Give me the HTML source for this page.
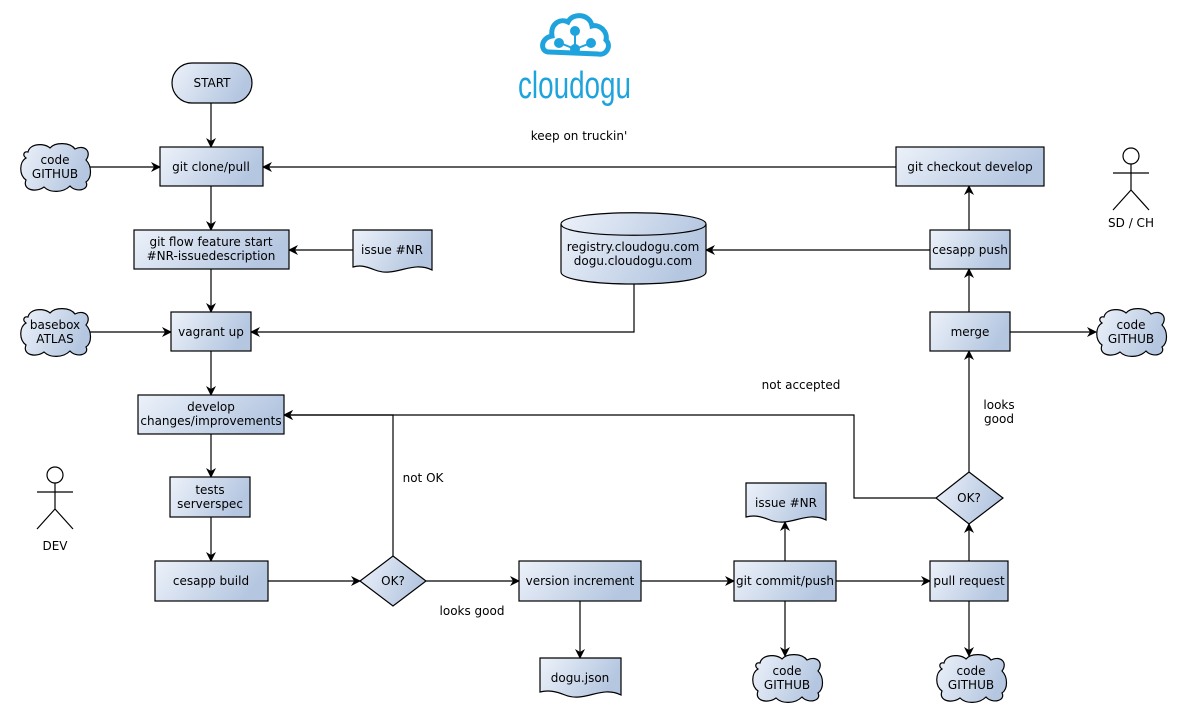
<!DOCTYPE html>
<html><head><meta charset="utf-8"><style>
html,body{margin:0;padding:0;background:#fff;}
svg{display:block;}
text{font-family:"DejaVu Sans","Liberation Sans",sans-serif;font-size:12px;fill:#000;}
</style></head><body>
<svg width="1186" height="719" viewBox="0 0 1186 719" xmlns="http://www.w3.org/2000/svg">
<defs>
<linearGradient id="g" x1="0" y1="0" x2="1" y2="0.3">
<stop offset="0" stop-color="#edf2fa"/><stop offset="1" stop-color="#b4c6e0"/>
</linearGradient>
<marker id="a" markerWidth="10" markerHeight="10" refX="9" refY="5" orient="auto" markerUnits="userSpaceOnUse">
<path d="M0,0 L10,5 L0,10 L3,5 Z" fill="#000"/>
</marker>
</defs>
<g fill="none" stroke="#000" stroke-width="1.2" marker-end="url(#a)">
<path d="M211,103 V147"/>
<path d="M90,167 H160"/>
<path d="M896,167 H263"/>
<path d="M211,186 V230"/>
<path d="M353,250 H289"/>
<path d="M211,269 V312"/>
<path d="M90,332 H171"/>
<path d="M634,283 V332 H251"/>
<path d="M211,351 V395"/>
<path d="M211,434 V477"/>
<path d="M211,517 V561"/>
<path d="M268,581 H360"/>
<path d="M393,556 V415 H284"/>
<path d="M426,581 H519"/>
<path d="M580,601 V658"/>
<path d="M641,581 H734"/>
<path d="M785,561 V522"/>
<path d="M785,601 V656"/>
<path d="M836,581 H930"/>
<path d="M969,601 V656"/>
<path d="M969,561 V524"/>
<path d="M936,498 H854 V415 H284"/>
<path d="M969,472 V351"/>
<path d="M1010,332 H1096"/>
<path d="M969,312 V269"/>
<path d="M930,250 H706"/>
<path d="M969,230 V186"/>
</g>
<g fill="url(#g)" stroke="#000" stroke-width="1.2">
<rect x="172" y="63" width="80" height="40" rx="20"/>
<rect x="160" y="147" width="103" height="39"/>
<rect x="134" y="230" width="155" height="39"/>
<rect x="171" y="312" width="80" height="39"/>
<rect x="138" y="395" width="146" height="39"/>
<rect x="170" y="477" width="80" height="40"/>
<rect x="155" y="561" width="113" height="40"/>
<rect x="519" y="561" width="122" height="40"/>
<rect x="734" y="561" width="102" height="40"/>
<rect x="930" y="561" width="78" height="40"/>
<rect x="930" y="312" width="80" height="39"/>
<rect x="930" y="230" width="80" height="39"/>
<rect x="896" y="147" width="148" height="39"/>
<path d="M393,556 L426,581 L393,606 L360,581 Z"/>
<path d="M969,472 L1003,498 L969,524 L936,498 Z"/>
<path d="M353,230 H432 V270 C412,260 395,278 375,270 C365,266 360,265 353,267 Z"/>
<path d="M746,483 H826 V520 C806,510 790,528 770,520 C760,516 754,515 746,517 Z"/>
<path d="M540,658 H621 V695 C601,685 585,703 565,695 C555,691 548,690 540,692 Z"/>
<path d="M561,224 C561,209 706,209 706,224 V272 C706,288 561,288 561,272 Z"/>
<path d="M561,224 C561,239 706,239 706,224" fill="none"/>
</g>
<g fill="url(#g)" stroke="#000" stroke-width="1.2">
<path id="cl" d="M28,152 C30,143 45,143 50,148 C55,142 70,142 75,149 C85,144 92,152 86,160 C92,166 92,178 86,182 C90,190 76,193 70,186 C63,193 50,193 44,187 C36,193 22,190 26,180 C19,175 19,162 26,158 C22,155 24,151 28,152 Z"/>
<use href="#cl" transform="translate(0,165)"/>
<use href="#cl" transform="translate(732,511)"/>
<use href="#cl" transform="translate(916,511)"/>
<use href="#cl" transform="translate(1076,165)"/>
</g>
<g fill="none" stroke="#000" stroke-width="1.2">
<circle cx="1131" cy="156" r="8"/><path d="M1131,164 V190 M1113,173 H1149 M1131,190 L1113,210 M1131,190 L1149,210"/>
<circle cx="55" cy="475" r="8"/><path d="M55,483 V509 M37,492 H73 M55,509 L37,529 M55,509 L73,529"/>
</g>
<g fill="none" stroke="#1fa3dc" stroke-width="5">
<path d="M549,52 C540,52 540,38 552,36 C550,24 560,18 568,22 C573,12 590,14 592,26 C600,24 608,32 606,40 C612,46 606,56 598,54 Z"/>
</g>
<g fill="#1fa3dc" stroke="#1fa3dc" stroke-width="2">
<path d="M560,43 L575,49 L591,43 M575,30 V49" fill="none"/>
<circle cx="575" cy="31" r="4"/><circle cx="559" cy="43" r="4"/><circle cx="591" cy="43" r="4"/><circle cx="575" cy="49" r="4"/>
</g>
<text x="518" y="98" textLength="113" lengthAdjust="spacingAndGlyphs" style="font-size:38px;fill:#1fa3dc;font-family:'Liberation Sans',sans-serif">cloudogu</text>
<g text-anchor="middle">
<text x="212" y="87">START</text>
<text x="211" y="171">git clone/pull</text>
<text x="211" y="246">git flow feature start</text>
<text x="211" y="260">#NR-issuedescription</text>
<text x="211" y="336">vagrant up</text>
<text x="211" y="411">develop</text>
<text x="211" y="425">changes/improvements</text>
<text x="210" y="494">tests</text>
<text x="210" y="508">serverspec</text>
<text x="211" y="585">cesapp build</text>
<text x="393" y="585">OK?</text>
<text x="580" y="585">version increment</text>
<text x="785" y="585">git commit/push</text>
<text x="969" y="585">pull request</text>
<text x="969" y="502">OK?</text>
<text x="970" y="336">merge</text>
<text x="970" y="254">cesapp push</text>
<text x="970" y="171">git checkout develop</text>
<text x="392" y="254">issue #NR</text>
<text x="786" y="507">issue #NR</text>
<text x="580" y="682">dogu.json</text>
<text x="633" y="251">registry.cloudogu.com</text>
<text x="633" y="265">dogu.cloudogu.com</text>
<text x="55" y="164">code</text><text x="55" y="178">GITHUB</text>
<text x="55" y="329">basebox</text><text x="55" y="343">ATLAS</text>
<text x="787" y="675">code</text><text x="787" y="689">GITHUB</text>
<text x="971" y="675">code</text><text x="971" y="689">GITHUB</text>
<text x="1131" y="329">code</text><text x="1131" y="343">GITHUB</text>
<text x="1131" y="227">SD / CH</text>
<text x="55" y="550">DEV</text>
<text x="579" y="140">keep on truckin'</text>
<text x="801" y="389">not accepted</text>
<text x="999" y="409">looks</text><text x="999" y="423">good</text>
<text x="423" y="482">not OK</text>
<text x="472" y="615">looks good</text>
</g>
</svg>
</body></html>
